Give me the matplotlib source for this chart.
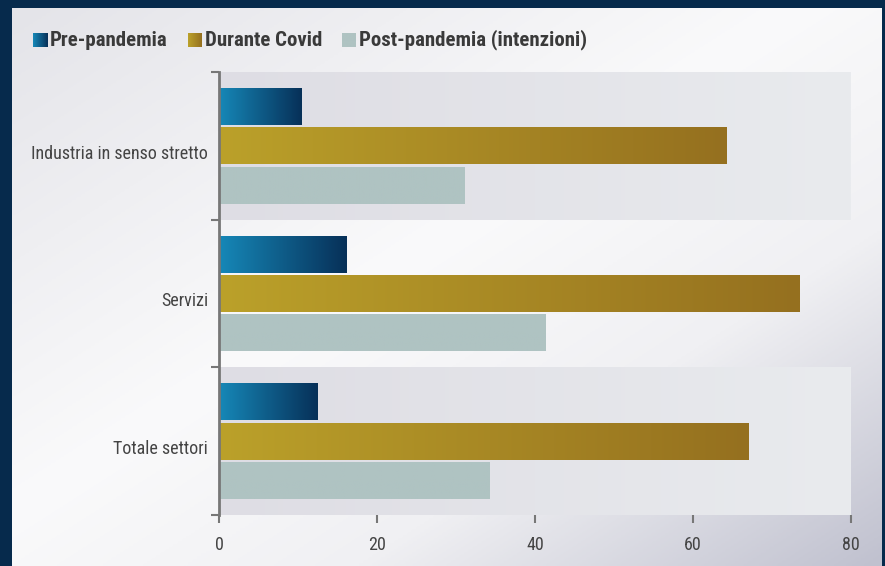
import matplotlib
matplotlib.use("Agg")
import matplotlib.pyplot as plt
import matplotlib.transforms as mtransforms
import numpy as np
from matplotlib import font_manager
from matplotlib.colors import LinearSegmentedColormap

#---------------- data ----------------
categorie = ["Industria in senso stretto", "Servizi", "Totale settori"]
serie = ["Pre-pandemia", "Durante Covid", "Post-pandemia (intenzioni)"]
pre_pandemia = [10.5, 16.2, 12.5]
durante_covid = [64.3, 73.5, 67.0]
post_pandemia = [31.1, 41.3, 34.3]
x_ticks = [0, 20, 40, 60, 80]

#---------------- fonts ---------------
names = set(f.name for f in font_manager.fontManager.ttflist)
family = "Roboto"
for cand in ["Roboto Condensed", "Liberation Sans Narrow"]:
    if cand in names:
        family = cand
        break
plt.rcParams['font.family'] = [family, 'DejaVu Sans']

#---------------- colours -------------
cm_pre = LinearSegmentedColormap.from_list("pre", ["#1688b8", "#073058"])
cm_dur = LinearSegmentedColormap.from_list("dur", ["#bba12a", "#95701f"])
cm_post = LinearSegmentedColormap.from_list("post", ["#afc3c2", "#afc3c2"])
cm_band = LinearSegmentedColormap.from_list("band", ["#dedde4", "#e9ebee"])
text_col = "#444444"

W, H = 885, 566
fig = plt.figure(figsize=(W/100, H/100), dpi=100)
fig.patch.set_facecolor("#062a4c")

# panel background (diagonal light gradient)
bg = fig.add_axes([12/W, 0, (882-12)/W, 1-8/H])
bg.set_axis_off()
xx, yy = np.meshgrid(np.linspace(0, 1, 200), np.linspace(0, 1, 200))
u = xx + yy
cm_bg = LinearSegmentedColormap.from_list(
    "bg", [(0, "#e4e4e9"), (0.45, "#fafafb"), (0.7, "#f0f0f3"), (1.0, "#c0c1cf")])
bg.imshow(u, cmap=cm_bg, vmin=0, vmax=2, aspect="auto", extent=[0, 1, 1, 0])
bg.set_xlim(0, 1); bg.set_ylim(1, 0)

ax = fig.add_axes([219/W, 1-515/H, (851-219)/W, (515-72)/H])
ax.patch.set_alpha(0)

y = np.arange(len(categorie))
h = 0.25
off = 0.267

# alternating bands
grad = np.linspace(0, 1, 256).reshape(1, -1)
for i in y:
    if i % 2 == 0:
        ax.imshow(grad, cmap=cm_band, aspect="auto",
                  extent=[0, 80, i+0.5, i-0.5], zorder=0)

def grad_bars(vals, pos, cmap):
    bars = ax.barh(pos, vals, height=h, color="none", zorder=2)
    for b in bars:
        x0, y0 = b.get_x(), b.get_y()
        im = ax.imshow(grad, cmap=cmap, aspect="auto", zorder=2,
                       extent=[x0, x0+b.get_width(), y0+b.get_height(), y0])
        im.set_clip_path(b)
    return bars

grad_bars(pre_pandemia, y-off, cm_pre)
grad_bars(durante_covid, y, cm_dur)
grad_bars(post_pandemia, y+off, cm_post)
ax.set_xlim(0, 80)
ax.set_ylim(2.5, -0.5)

# axes styling
for s in ["top", "right", "bottom"]:
    ax.spines[s].set_visible(False)
ax.spines["left"].set_color("#777777")
ax.spines["left"].set_linewidth(2)
ax.spines["left"].set_zorder(3)

ax.set_yticks(y)
ax.set_yticklabels(categorie, fontsize=13, color=text_col)
ax.tick_params(axis="y", which="major", length=0, pad=8)
shift = mtransforms.ScaledTranslation(0, -6/100, fig.dpi_scale_trans)
for lab in ax.get_yticklabels():
    lab.set_transform(lab.get_transform() + shift)
ax.set_yticks([-0.5, 0.5, 1.5, 2.5], minor=True)
ax.tick_params(axis="y", which="minor", length=6, width=1.5, color="#777777")

ax.set_xticks(x_ticks)
ax.set_xticklabels([str(t) for t in x_ticks], fontsize=13, color=text_col)
ax.tick_params(axis="x", length=6, width=1.5, color="#777777", pad=9)

# legend
leg_cmaps = [cm_pre, cm_dur, cm_post]
renderer = fig.canvas.get_renderer()
xpos = 33
for name, cm in zip(serie, leg_cmaps):
    sq = fig.add_axes([xpos/W, 1-47/H, 14/W, 14/H])
    sq.imshow(grad, cmap=cm, aspect="auto")
    sq.set_axis_off()
    t = fig.text((xpos+17)/W, 1-40/H, name, fontsize=15, fontweight="bold",
                 color="#3a3a3a", va="center", ha="left")
    bb = t.get_window_extent(renderer)
    xpos = bb.x1 + 20

fig.savefig("out.png", dpi=100, facecolor=fig.get_facecolor())
